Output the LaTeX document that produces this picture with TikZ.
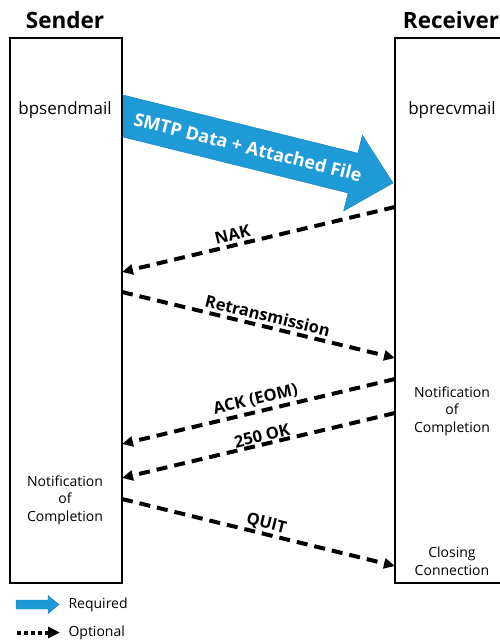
\documentclass[tikz,border=0pt]{standalone}
\usepackage{fontspec}
\setmainfont{Open Sans}
\usetikzlibrary{arrows.meta}

\begin{document}
\begin{tikzpicture}[x=1pt,y=-1pt,
    box/.style={draw, line width=1.6pt, minimum width=112pt, minimum height=545pt, inner sep=0pt},
    title/.style={font=\fontsize{22.5}{24}\selectfont\bfseries},
    proc/.style={font=\fontsize{17}{18}\selectfont},
    note/.style={font=\fontsize{14}{17.5}\selectfont, align=center},
    msg/.style={line width=4pt, dash pattern=on 11pt off 7pt, -{Triangle[length=11pt,width=10pt]}},
    msglabel/.style={font=\fontsize{16.5}{18}\selectfont\bfseries, sloped, above, inner sep=3pt}]
    % Define colours
    \definecolor{arrowblue}{RGB}{30,155,215} % Required arrow
    \definecolor{arrowedge}{RGB}{20,120,180}

    \useasboundingbox (0,0) rectangle (500,641);
    \clip (0,0) rectangle (500,641);

    % 1. Sender and receiver boxes
    \node[box] (sender) at (66,310.5) {};
    \node[box, minimum width=115pt] (recv) at (452.5,310.5) {};
    \node[title] (sendTitle) at (65,20) {Sender};
    \node[title] (recvTitle) at (451,20) {Receiver};
    \node[proc] (sendProc) at (65,110) {bpsendmail};
    \node[proc] (recvProc) at (452,110) {bprecvmail};

    % 2. Notes inside the boxes
    \node[note] (sendDone) at (65,500) {Notification\\of\\Completion};
    \node[note] (recvDone) at (452,411) {Notification\\of\\Completion};
    \node[note] (recvClose) at (452,561) {Closing\\Connection};

    % 3. Required transfer (blue arrow)
    \fill[arrowblue, draw=arrowedge, line width=0.4pt]
        (123,95) -- (357.9,153.2) -- (362.4,135.2) -- (393,183)
        -- (343.6,211) -- (348.1,193) -- (123,137) -- cycle;
    \node[rotate=-13.9, text=white, font=\fontsize{18}{20}\selectfont\bfseries]
        (dataLabel) at (248,147) {SMTP Data + Attached File};

    % 4. Optional messages (dashed arrows)
    \coordinate (nakR) at (395,207);
    \coordinate (nakS) at (122,272);
    \coordinate (retS) at (122,292);
    \coordinate (retR) at (395,358);
    \coordinate (ackR) at (395,379);
    \coordinate (ackS) at (122,444);
    \coordinate (okR) at (395,413);
    \coordinate (okS) at (122,478);
    \coordinate (quitS) at (122,499);
    \coordinate (quitR) at (395,566);

    \draw[msg] (nakR) -- node[msglabel, pos=0.586] {NAK} (nakS);
    \draw[msg] (retS) -- node[msglabel, pos=0.524] {Retransmission} (retR);
    \draw[msg] (ackR) -- node[msglabel, pos=0.5] {ACK (EOM)} (ackS);
    \draw[msg] (okR) -- node[msglabel, pos=0.48, inner sep=0.5pt] {250 OK} (okS);
    \draw[msg] (quitS) -- node[msglabel, pos=0.52, inner sep=0.5pt] {QUIT} (quitR);

    % 5. Legend
    \fill[arrowblue, draw=arrowedge, line width=0.4pt]
        (16,600) -- (48,600) -- (48,595.5) -- (59,604.5) -- (48,613.5)
        -- (48,609) -- (16,609) -- cycle;
    \node[note, anchor=west] (reqText) at (65,605) {Required};
    \coordinate (optA) at (17,632.5);
    \coordinate (optB) at (60,632.5);
    \draw[line width=4pt, dash pattern=on 4pt off 3pt,
          -{Triangle[length=12pt,width=11pt]}] (optA) -- (optB);
    \node[note, anchor=west] (optText) at (65,633) {Optional};
\end{tikzpicture}
\end{document}
